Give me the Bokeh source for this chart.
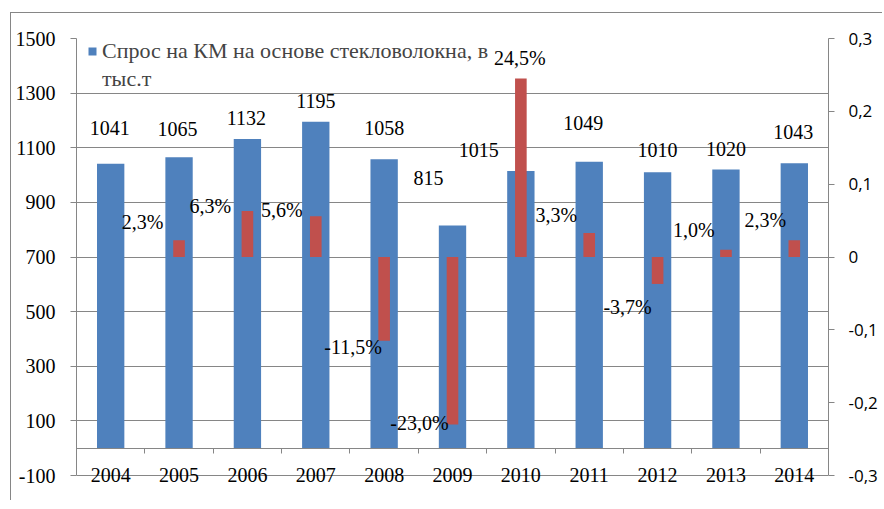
import math
from bokeh.plotting import figure
from bokeh.models import (ColumnDataSource, Range1d, LinearAxis, FixedTicker, Legend,
                          LegendItem, CustomJSTickFormatter)
from bokeh.core.properties import value
from bokeh.embed import file_html
from bokeh.resources import INLINE

# ---- data ----
years = ["2004", "2005", "2006", "2007", "2008", "2009", "2010", "2011", "2012", "2013", "2014"]
demand = [1041, 1065, 1132, 1195, 1058, 815, 1015, 1049, 1010, 1020, 1043]
growth = [None, 0.023, 0.063, 0.056, -0.115, -0.230, 0.245, 0.033, -0.037, 0.010, 0.023]
left_ticks = [-100, 100, 300, 500, 700, 900, 1100, 1300, 1500]
right_ticks = [-0.3, -0.2, -0.1, 0, 0.1, 0.2, 0.3]
series_name = ["Спрос на КМ на основе стекловолокна, в", "тыс.т"]

# ---- label nudges in pixels (layout only) ----
demand_dx = [-1, -1.5, -1, 0, 0, -24, -42, -6, 0, 0, -1]
demand_dy = [-36, -28, -21.5, -21, -31, -48, -20.5, -39, -22, -21, -31]
growth_dx = [0, -36.5, -37, -34, -31, -33, -1, -33, -30, -32, -29]
growth_dy = [0, -18, -5.6, -6, 6, -2, -21, -17.5, 22.6, -20, -20]

SERIF = "Liberation Serif"
GRAY = "#868686"
BLUE = "#4F81BD"
RED = "#C0504D"

n = len(years)
xc = [i + 0.5 for i in range(n)]

# plot area geometry (px): axes span AXIS_H, frame extends PAD below for category labels
AXIS_H = 437
PAD = 26
L0, L1 = left_ticks[0], left_ticks[-1]
R0, R1 = right_ticks[0], right_ticks[-1]
left_start = L0 - PAD * (L1 - L0) / AXIS_H
right_start = R0 - PAD * (R1 - R0) / AXIS_H

src = ColumnDataSource(dict(x=xc, demand=demand, label=[str(v) for v in demand],
                            dx=demand_dx, dy=demand_dy))
gi = [i for i, g in enumerate(growth) if g is not None]
gsrc = ColumnDataSource(dict(
    x=[xc[i] for i in gi],
    g=[growth[i] for i in gi],
    label=[f"{growth[i] * 100:.1f}%".replace(".", ",") for i in gi],
    dx=[growth_dx[i] for i in gi],
    dy=[growth_dy[i] for i in gi],
))

p = figure(width=872, height=488, x_range=Range1d(0, n), y_range=Range1d(left_start, L1),
           output_backend="svg", toolbar_location=None, x_axis_location=None,
           min_border_left=65, min_border_right=55, min_border_top=25, min_border_bottom=0)
p.margin = (12, 0, 0, 10)
p.styles = {"border-top": f"1px solid {GRAY}", "border-left": f"1px solid {GRAY}"}
p.outline_line_color = None
p.extra_y_ranges = {"growth": Range1d(right_start, R1)}

for g in p.xgrid:
    g.visible = False
p.ygrid[0].ticker = FixedTicker(ticks=left_ticks)
p.ygrid[0].grid_line_color = GRAY

la = p.yaxis[0]
la.bounds = (L0, L1)
la.ticker = FixedTicker(ticks=left_ticks)
la.formatter = CustomJSTickFormatter(code="return String(Math.round(tick));")
la.axis_line_color = GRAY
la.major_tick_line_color = GRAY
la.major_tick_in = 0
la.major_tick_out = 6
la.minor_tick_line_color = None
la.major_label_standoff = 15
la.major_label_text_font = SERIF
la.major_label_text_font_size = "20px"
la.major_label_text_color = "black"

ra = LinearAxis(y_range_name="growth", ticker=FixedTicker(ticks=right_ticks), bounds=(R0, R1),
                formatter=CustomJSTickFormatter(code="return Math.abs(tick) < 1e-9 ? '0' : tick.toFixed(1).replace('.', ',');"))
ra.axis_line_color = GRAY
ra.major_tick_line_color = GRAY
ra.major_tick_in = 0
ra.major_tick_out = 6
ra.minor_tick_line_color = None
ra.major_label_standoff = 14
ra.major_label_text_font = "Open Sans"
ra.major_label_text_font_size = "17px"
ra.major_label_text_color = "black"
p.add_layout(ra, "right")

# category axis at value 0 with boundary ticks
bx = LinearAxis(fixed_location=0, ticker=FixedTicker(ticks=list(range(0, n + 1))))
bx.axis_line_color = GRAY
bx.major_tick_line_color = GRAY
bx.major_tick_in = 0
bx.major_tick_out = 5
bx.minor_tick_line_color = None
bx.major_label_text_alpha = 0
p.add_layout(bx, "below")

cx = LinearAxis(fixed_location=0, ticker=FixedTicker(ticks=xc),
                formatter=CustomJSTickFormatter(args=dict(years=years),
                                                code="return years[Math.floor(tick)];"))
cx.axis_line_color = None
cx.major_tick_line_color = None
cx.major_tick_in = 0
cx.major_tick_out = 0
cx.minor_tick_line_color = None
cx.major_label_standoff = 20
cx.major_label_text_font = SERIF
cx.major_label_text_font_size = "20px"
cx.major_label_text_color = "black"
p.add_layout(cx, "below")

blue = p.vbar(x="x", top="demand", bottom=0, width=0.4, source=src,
              fill_color=BLUE, line_color=None)
ghost = p.vbar(x="x", top="demand", bottom=0, width=0.4, source=src,
               fill_alpha=0, line_alpha=0)
p.vbar(x="x", top="g", bottom=0, width=0.17, source=gsrc, y_range_name="growth",
       fill_color=RED, line_color=None)

p.text(x="x", y="demand", text="label", x_offset="dx", y_offset="dy", source=src,
       text_align="center", text_baseline="middle", text_font=value(SERIF),
       text_font_size="20px", text_color="black")
p.text(x="x", y="g", text="label", x_offset="dx", y_offset="dy", source=gsrc,
       y_range_name="growth", text_align="center", text_baseline="middle",
       text_font=value(SERIF), text_font_size="20px", text_color="black")

legend = Legend(items=[LegendItem(label=series_name[0], renderers=[blue]),
                       LegendItem(label=series_name[1], renderers=[ghost])],
                location=(11, AXIS_H + PAD - 54), padding=0, margin=0, spacing=2,
                glyph_width=10, glyph_height=10, label_standoff=5,
                border_line_color=None, background_fill_alpha=0,
                label_text_font=SERIF, label_text_font_size="22px", label_height=25)
p.add_layout(legend)

open("out.html", "w").write(file_html(p, INLINE))
